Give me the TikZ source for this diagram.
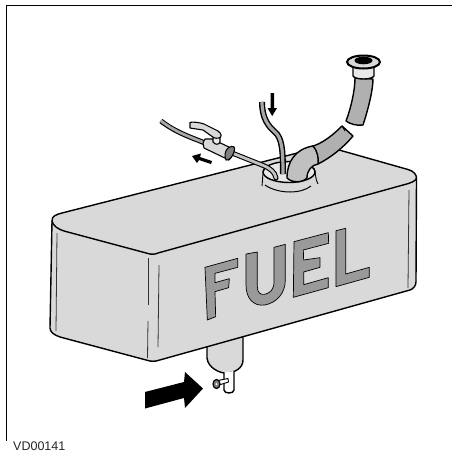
\documentclass[tikz,border=0pt]{standalone}
\usepackage{fontspec}
\setmainfont{Liberation Sans}
\definecolor{tankgray}{HTML}{D9D9D9}
\definecolor{lettergray}{HTML}{9A9A9A}
\definecolor{hosegray}{HTML}{B0B0B0}
\definecolor{pipegray}{HTML}{A8A8A8}
\tikzset{
  ink/.style={draw=black,line width=1.4,line join=round},
  tankface/.style={ink,fill=tankgray},
  seam/.style={draw=black!80,line width=.8},
  letterface/.style={draw=black,line width=.7,fill=lettergray,line join=round},
  hoseface/.style={ink,fill=hosegray},
  valveface/.style={draw=black,line width=1.1,line join=round,fill=tankgray},
}
\begin{document}
\begin{tikzpicture}[x=1pt,y=-1pt]
\useasboundingbox (0,0) rectangle (452,456);
% frame
\draw[black,line width=1.8] (6.5,441) -- (6.5,5.5) -- (452,5.5);
% drain cylinder
\draw[tankface] (207,340) -- (207,358) .. controls (208,368) and (220,373) .. (225,373) .. controls (235,373) and (243,368) .. (243,360) -- (243,335) -- cycle;
% drain pipe
\draw[ink,fill=white] (224,372.5) -- (224,390) .. controls (224,394) and (234,394) .. (234,390) -- (234,371);
% screw
\draw[black,line width=.9,fill=white] (218,380.5) -- (228,378.5) -- (228.5,382) -- (219,385);
\draw[black,line width=1.2,fill=gray] (216.5,384) circle[x radius=3.5,y radius=4.5];
\fill[white] (216.5,384) circle[radius=1];
% tank body
\draw[tankface] (52,221) .. controls (52,216) and (55,215) .. (62,213) -- (325,146) -- (408,169.5) .. controls (414,171) and (416.5,175) .. (416.5,178)
  -- (416,282) .. controls (416,286) and (413,289) .. (410,290) -- (158,360.5) .. controls (155,361.5) and (151,361.5) .. (148,360.5) -- (60,337) .. controls (54,335) and (50,332) .. (50,328) -- cycle;
\draw[ink] (52,221) .. controls (53,226) and (58,229) .. (64,231) -- (148,253.5) .. controls (151,254.5) and (155,254.5) .. (158,253) -- (403,185) .. controls (411,183) and (416,181) .. (416.5,178);
% seams
\draw[seam] (57,233) -- (56,331);
\draw[seam] (148,258) -- (148,305);
\draw[seam] (148,321) -- (147.5,358);
\draw[seam] (159,265) -- (158,347);
\draw[seam] (409,190) -- (408,288);
% FUEL
\begin{scope}[shift={(200,190)},x=.3333pt,y=-.3333pt]
\draw[letterface] (15,232) -- (113,205) -- (113,232) -- (45,250) -- (45,278) -- (88,266) -- (86,293) -- (45,305) -- (47,380) -- (22,390) -- cycle;
\draw[letterface] (138,192) -- (172,186) -- (172,290) .. controls (172,308) and (182,316) .. (195,313) .. controls (212,308) and (222,298) .. (222,275) -- (222,172) -- (256,163) -- (256,270) .. controls (256,310) and (230,338) .. (195,345) .. controls (160,350) and (138,325) .. (138,285) -- cycle;
\draw[letterface] (282,155) -- (385,128) -- (386,160) -- (310,180) -- (311,210) -- (360,203) -- (360,232) -- (311,246) -- (311,284) -- (385,263) -- (385,293) -- (280,322) -- cycle;
\draw[letterface] (408,122) -- (437,115) -- (437,252) -- (508,232) -- (508,262) -- (408,290) -- cycle;
\end{scope}
% filler flange
\draw[ink,line width=1] (265,185) .. controls (272,190) and (282,192) .. (290,192) .. controls (298,192) and (306,190) .. (311,186);
\draw[ink,fill=tankgray!60!white] (289,172) ellipse[x radius=26,y radius=10.5];
\draw[ink,line width=.9] (265,168) .. controls (262,172) and (263,179) .. (262,186);
\draw[ink,line width=.9] (314,168) .. controls (316,173) and (315,179) .. (318,184);
% lower hose
\draw[hoseface] (310,147) .. controls (322,144) and (333,135) .. (342,126) -- (353,136) .. controls (343,148) and (330,158) .. (318,164) -- cycle;
\draw[ink,line width=.9] (342,126) -- (345,131);
% elbow
\draw[ink,fill=hosegray!80!white] (287,178) .. controls (287,162) and (295,149) .. (313,146) .. controls (317,150) and (319,158) .. (318,164) .. controls (312,165) and (307,170) .. (307,178) .. controls (302,183) and (292,183) .. (287,178) -- cycle;
% centre tube
\draw[black,line width=6,line cap=butt] (262,102) .. controls (262,118) and (268,126) .. (275,132) .. controls (282,138) and (283,150) .. (283,174);
\draw[pipegray,line width=3.2] (262,101.5) .. controls (262,118) and (268,126) .. (275,132) .. controls (282,138) and (283,150) .. (283,174.5);
% left tube
\draw[black,line width=5,line cap=round] (232,153) -- (262,165) .. controls (270,168) and (275,172) .. (276,178);
\draw[pipegray!70!white,line width=2.8,line cap=round] (232,153) -- (262,165) .. controls (270,168) and (275,172) .. (276,178);
% far left tube
\draw[black,line width=5] (161,121) .. controls (175,132) and (190,137) .. (205,143);
\draw[pipegray,line width=2.8] (160.5,120.5) .. controls (175,132) and (190,137) .. (205,143);
% valve
\draw[valveface] (203,143) -- (205,139) -- (212,139) -- (231,148) .. controls (234,150) and (233,157) .. (229,160) -- (204,148) -- cycle;
\draw[valveface,fill=gray] (228,148) .. controls (233,145) and (236,146) .. (234,152) .. controls (233,156) and (229,161) .. (226,160) .. controls (224,156) and (225,151) .. (228,148) -- cycle;
\draw[valveface,fill=tankgray!60!white] (213,137) -- (213,142) .. controls (215,145) and (219,145) .. (220,142) -- (220,135) -- cycle;
\draw[valveface] (190,122.5) .. controls (192,121.5) and (200,122.5) .. (204,124) -- (218,131) .. controls (222,134) and (222,137) .. (219,138) .. controls (215,139) and (212,137) .. (210,135) -- (203,130) -- (190,128) -- cycle;
% small arrow
\fill[black] (192,156) -- (201,153.5) -- (200,157) -- (212,161) -- (211,164) -- (199,160) -- (197,163) -- cycle;
% down arrow
\fill[black] (270.5,93) -- (274,93) -- (274,108) -- (277,108) -- (272.2,116) -- (267.5,108) -- (270.5,108) -- cycle;
% upper hose
\draw[hoseface] (355,78) .. controls (355,90) and (351,108) .. (346,121) .. controls (350,124) and (357,126) .. (363,125) .. controls (368,110) and (373,90) .. (373,79) -- cycle;
% collar
\draw[ink,fill=tankgray!60!white] (353,66) -- (353,76) .. controls (355,80) and (372,80) .. (374,76) -- (374,66) -- cycle;
% neck flange
\draw[black,line width=2,fill=tankgray] (363.5,62) ellipse[x radius=16.5,y radius=6.5];
\fill[black] (363.5,60.5) ellipse[x radius=9,y radius=3.8];
% big arrow
\fill[black] (145,392) -- (184,382) -- (185,372) -- (203,388.5) -- (185,408) -- (184,398) -- (145,408.5) -- cycle;
% label
\node[anchor=base west,inner sep=0,font=\fontsize{12.5}{14}\selectfont,text=black!85] (code) at (13,450) {VD00141};
\end{tikzpicture}
\end{document}
